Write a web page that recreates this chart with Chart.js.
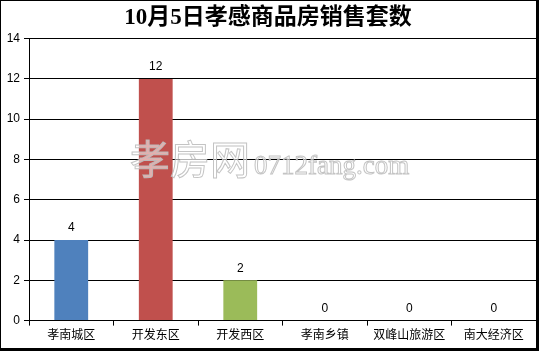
<!DOCTYPE html>
<html>
<head>
<meta charset="utf-8">
<script src="https://cdn.jsdelivr.net/npm/chart.js@4/dist/chart.umd.min.js"></script>
<style>
  html, body { margin: 0; padding: 0; background: #fff; }
  #wrap { position: relative; width: 539px; height: 351px; }
  #wrap canvas { position: absolute; left: 0; top: 0; }
  #frame {
    position: absolute; left: 0; top: 0; width: 539px; height: 351px;
    box-sizing: border-box; border: 1px solid #000;
    border-right-width: 3px; border-bottom-width: 3px; pointer-events: none;
  }
</style>
</head>
<body>
<div id="wrap">
  <canvas id="c" width="539" height="351"></canvas>
  <div id="frame"></div>
</div>
<script>
// ---- data ----
const titleText = '10月5日孝感商品房销售套数';
const districts = ['孝南城区', '开发东区', '开发西区', '孝南乡镇', '双峰山旅游区', '南大经济区'];
const sales     = [4, 12, 2, 0, 0, 0];
const barColors = ['#4F81BD', '#C0504D', '#9BBB59', '#4F81BD', '#4F81BD', '#4F81BD'];
const yTicks    = [0, 2, 4, 6, 8, 10, 12, 14];

const FONT = '"Liberation Sans", "Noto Sans CJK SC", sans-serif';

// value labels above each bar
const valueLabels = {
  id: 'valueLabels',
  afterDatasetsDraw(chart) {
    const { ctx } = chart;
    const meta = chart.getDatasetMeta(0);
    ctx.save();
    ctx.fillStyle = '#000';
    ctx.font = '12px ' + FONT;
    ctx.textAlign = 'center';
    ctx.textBaseline = 'middle';
    meta.data.forEach((bar, i) => {
      ctx.fillText(String(sales[i]), bar.x, bar.y - 12);
    });
    ctx.restore();
  }
};

// faint site watermark
const watermark = {
  id: 'watermark',
  afterDraw(chart) {
    const { ctx } = chart;
    ctx.save();
    ctx.lineWidth = 1;
    ctx.strokeStyle = 'rgba(190,190,190,0.9)';
    ctx.fillStyle = 'rgba(255,255,255,0.55)';
    ctx.textBaseline = 'alphabetic';
    ctx.textAlign = 'left';
    ctx.font = '40px "Noto Sans CJK SC", sans-serif';
    ctx.fillText('孝房网', 130, 174);
    ctx.strokeText('孝房网', 130, 174);
    ctx.font = '27px "Liberation Serif", serif';
    ctx.fillText('0712fang.com', 254, 174);
    ctx.strokeText('0712fang.com', 254, 174);
    ctx.restore();
  }
};

new Chart(document.getElementById('c'), {
  type: 'bar',
  data: {
    labels: districts,
    datasets: [{
      data: sales,
      backgroundColor: barColors,
      borderWidth: 0,
      barPercentage: 0.4,
      categoryPercentage: 1.0
    }]
  },
  options: {
    responsive: false,
    animation: false,
    layout: { padding: { left: 0, right: 3, top: 0, bottom: 5 } },
    plugins: {
      legend: { display: false },
      tooltip: { enabled: false },
      title: {
        display: true,
        text: titleText,
        color: '#000',
        font: { family: '"Liberation Serif", "Noto Sans CJK SC", serif', size: 23, weight: 'bold' },
        padding: { top: 4, bottom: 7 }
      }
    },
    scales: {
      x: {
        offset: true,
        grid: {
          offset: true,
          drawOnChartArea: false,
          color: '#000',
          tickLength: 5
        },
        border: { color: '#000', width: 1 },
        ticks: { color: '#000', font: { family: FONT, size: 12 }, padding: 3, maxRotation: 0, autoSkip: false }
      },
      y: {
        min: 0,
        max: 14,
        afterBuildTicks(scale) { scale.ticks = yTicks.map(v => ({ value: v })); },
        afterFit(scale) { scale.width = 29; },
        grid: { color: '#000', tickLength: 5 },
        border: { color: '#000', width: 1 },
        ticks: { color: '#000', font: { family: FONT, size: 12 }, padding: 4 }
      }
    }
  },
  plugins: [valueLabels, watermark]
});
</script>
</body>
</html>
